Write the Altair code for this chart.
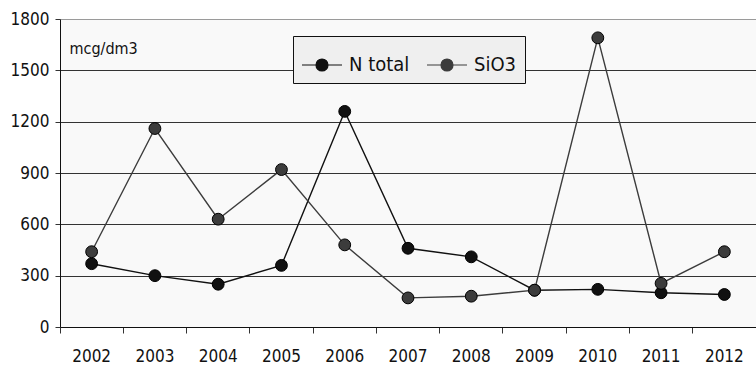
import altair as alt
import pandas as pd

years = ["2002", "2003", "2004", "2005", "2006", "2007", "2008", "2009", "2010", "2011", "2012"]
n_total = [370, 300, 250, 360, 1260, 460, 410, 215, 220, 200, 190]
sio3 = [440, 1160, 630, 920, 480, 170, 180, 215, 1690, 255, 440]
series_names = ["N total", "SiO3"]
y_ticks = [0, 300, 600, 900, 1200, 1500, 1800]

rows = []
for i, name in enumerate(series_names):
    vals = n_total if i == 0 else sio3
    for yr, v in zip(years, vals):
        rows.append({"year": yr, "value": v, "series": name, "order": i})
df = pd.DataFrame(rows)

FONT = "'DejaVu Sans Condensed', 'Liberation Sans'"

x_enc = alt.X(
    "year:N",
    sort=years,
    scale=alt.Scale(type="band", paddingInner=0, paddingOuter=0),
    axis=alt.Axis(
        title=None,
        labelAngle=0,
        bandPosition=0,
        grid=False,
        domainColor="#111111",
        tickColor="#333333",
        tickSize=6,
        labelPadding=15,
        labelFontSize=17,
        labelFont=FONT,
        labelColor="#111111",
    ),
)
y_enc = alt.Y(
    "value:Q",
    scale=alt.Scale(domain=[0, 1800], nice=False),
    axis=alt.Axis(
        title="mcg/dm3",
        titleAngle=0,
        titleX=9,
        titleY=34,
        titleAlign="left",
        titleBaseline="alphabetic",
        titleFont=FONT,
        titleFontSize=16,
        titleFontWeight="normal",
        titleColor="#111111",
        values=y_ticks,
        format="d",
        grid=True,
        gridColor={"condition": {"test": "datum.value >= 1800", "value": "#9a9a9a"}, "value": "#333333"},
        gridWidth=1.2,
        domainColor="#111111",
        tickColor="#333333",
        tickSize=5,
        labelPadding=6,
        labelFontSize=17,
        labelFont=FONT,
        labelColor="#111111",
    ),
)
color_scale = alt.Scale(domain=series_names, range=["#111111", "#3c3c3c"])

# legend symbol: a short line with a marker circle in the middle (unit box -1..1)
marker_path = (
    "M-1,0H-0.3M0.3,0H1"
    "M-0.3,0A0.3,0.3 0 1,1 0.3,0A0.3,0.3 0 1,1 -0.3,0Z"
)
legend = alt.Legend(
    title=None,
    orient="none",
    legendX=233,
    legendY=17,
    direction="horizontal",
    symbolType=marker_path,
    symbolSize=1600,
    symbolStrokeColor="#000000",
    symbolStrokeWidth=1.2,
    symbolOpacity=1,
    labelFont=FONT,
    labelFontSize=20,
    labelColor="#111111",
    labelOffset=6,
    columnPadding=14,
    padding=8,
    fillColor="#efefef",
    strokeColor="#111111",
)

lines = alt.Chart(df).mark_line(strokeWidth=1.4).encode(
    x=x_enc,
    y=y_enc,
    color=alt.Color("series:N", scale=color_scale, legend=legend),
    order=alt.Order("order:Q"),
)

points = alt.Chart(df).mark_point(
    filled=True, size=140, opacity=1, stroke="#000000", strokeWidth=1
).encode(
    x=x_enc,
    y=y_enc,
    color=alt.Color("series:N", scale=color_scale, legend=legend),
    order=alt.Order("order:Q"),
)

chart = (
    alt.layer(lines, points)
    .properties(
        width=696,
        height=308,
        padding={"left": 60, "top": 19, "right": 0, "bottom": 49},
        autosize=alt.AutoSizeParams(type="none"),
        background="#ffffff",
    )
    .configure_view(fill="#f9f9f9", stroke=None)
)

chart.save("out.html", embed_options={"renderer": "svg", "actions": False})
